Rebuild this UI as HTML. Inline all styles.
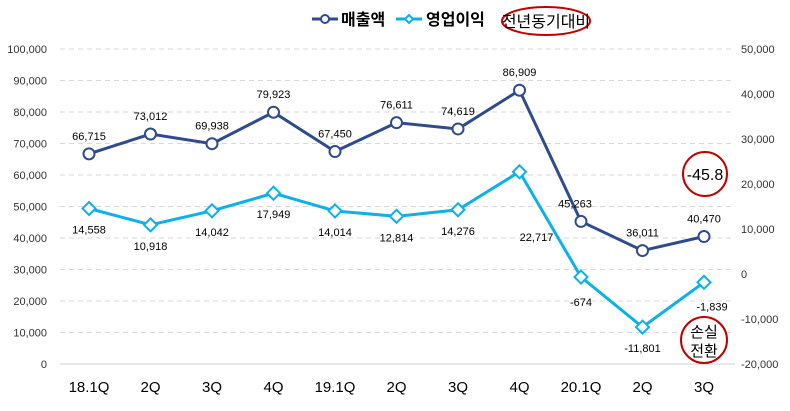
<!DOCTYPE html>
<html><head><meta charset="utf-8"><style>
body{margin:0;background:#fff;width:790px;height:406px;overflow:hidden;font-family:"Liberation Sans","Noto Sans CJK KR",sans-serif}
svg text{font-family:"Liberation Sans","Noto Sans CJK KR",sans-serif}
</style></head><body>
<svg id="c" width="790" height="406"></svg>
<script>
const categories=["18.1Q","2Q","3Q","4Q","19.1Q","2Q","3Q","4Q","20.1Q","2Q","3Q"];
const revenue=[66715,73012,69938,79923,67450,76611,74619,86909,45263,36011,40470];
const opProfit=[14558,10918,14042,17949,14014,12814,14276,22717,-674,-11801,-1839];
const leftTicks=[0,10000,20000,30000,40000,50000,60000,70000,80000,90000,100000];
const rightTicks=[-20000,-10000,0,10000,20000,30000,40000,50000];
const NS="http://www.w3.org/2000/svg";
const svg=document.getElementById('c');
const topY=49,botY=364;
const yL=v=>botY-(v/100000)*(botY-topY);
const yR=v=>botY-((v+20000)/70000)*(botY-topY);
const x=i=>89+i*61.5;
const fmt=v=>v.toLocaleString('en-US');
function mk(t,a,p){const e=document.createElementNS(NS,t);for(const k in a)e.setAttribute(k,a[k]);(p||svg).appendChild(e);return e;}
function txt(s,xx,yy,a,p){const e=mk('text',Object.assign({x:xx,y:yy,'font-size':11,fill:'#000'},a),p);e.textContent=s;return e;}
const grid=mk('g',{});
leftTicks.forEach(v=>{const l=mk('line',{x1:60,x2:735,y1:yL(v),y2:yL(v),stroke:v==0?'#d0d0d0':'#d9d9d9','stroke-dasharray':v==0?'none':'5,4'},grid);

const t=txt(fmt(v),47,yL(v)+4,{'text-anchor':'end','font-size':11,fill:'#333'});});
rightTicks.forEach(v=>{const t=txt(fmt(v),741,yR(v)+4,{'font-size':11,fill:'#333'});});
categories.forEach((c,i)=>{const t=txt(c,x(i),392,{'text-anchor':'middle','font-size':15,fill:'#000'});});
const rl=mk('polyline',{points:revenue.map((v,i)=>x(i)+','+yL(v)).join(' '),fill:'none',stroke:'#2f4b8f','stroke-width':3});

const ol=mk('polyline',{points:opProfit.map((v,i)=>x(i)+','+yR(v)).join(' '),fill:'none',stroke:'#0cb0eb','stroke-width':3});

revenue.forEach((v,i)=>{const c=mk('circle',{cx:x(i),cy:yL(v),r:5.5,fill:'#fff',stroke:'#2f4b8f','stroke-width':2});

let lx=x(i),ly=yL(v)-14;if(i==8){lx=x(i)-6;}
const t=txt(fmt(v),lx,ly,{'text-anchor':'middle'});});
opProfit.forEach((v,i)=>{const X=x(i),Y=yR(v);const d=mk('path',{d:`M${X} ${Y-6.5}L${X+6.5} ${Y}L${X} ${Y+6.5}L${X-6.5} ${Y}Z`,fill:'#fff',stroke:'#0cb0eb','stroke-width':2});

let lx=X,ly=Y+25;if(i==7){lx=X+17;ly=Y+69;}if(i==10){lx=X+8;ly=Y+28;}if(i==8){ly=Y+29;}
const t=txt(fmt(v),lx,ly,{'text-anchor':'middle'});});
const lg=mk('g',{});
mk('line',{x1:312,x2:338,y1:19,y2:19,stroke:'#2f4b8f','stroke-width':3},lg);
mk('circle',{cx:325,cy:19,r:4,fill:'#fff',stroke:'#2f4b8f','stroke-width':2},lg);
let t=txt('매출액',341,25,{'font-size':16,'font-weight':'bold'},lg);
mk('line',{x1:396,x2:422,y1:19,y2:19,stroke:'#0cb0eb','stroke-width':3},lg);
mk('path',{d:'M409 15L413 19L409 23L405 19Z',fill:'#fff',stroke:'#0cb0eb','stroke-width':2},lg);
t=txt('영업이익',426,25,{'font-size':16,'font-weight':'bold'},lg);
mk('ellipse',{cx:546,cy:21,rx:44,ry:14,fill:'none',stroke:'#c00000','stroke-width':2},lg);
t=txt('전년동기대비',546,27,{'font-size':16,'text-anchor':'middle'},lg);
mk('circle',{cx:705,cy:174,r:22,fill:'#fff',stroke:'#c00000','stroke-width':2});
t=txt('-45.8',705,180,{'font-size':16,'text-anchor':'middle'});
mk('circle',{cx:704,cy:340,r:23,fill:'#fff',stroke:'#c00000','stroke-width':2});
t=txt('손실',704,337,{'font-size':15,'text-anchor':'middle'});
t=txt('전환',704,356,{'font-size':15,'text-anchor':'middle'});
</script>
</body></html>
